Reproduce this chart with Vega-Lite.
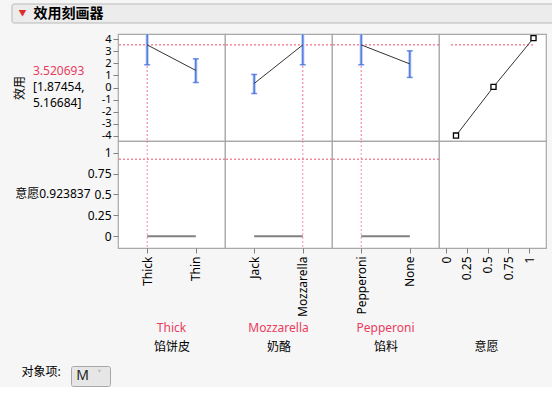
{
  "$schema": "https://vega.github.io/schema/vega-lite/v6.json",
  "background": "#f6f6f6",
  "padding": {"left": 11, "top": 3, "right": 0, "bottom": 0},
  "config": {
    "font": "Noto Sans, Noto Sans CJK SC",
    "view": {"stroke": "#a8a8a8", "strokeWidth": 1.2, "fill": "white"},
    "axis": {"domain": false, "grid": false, "labelFontSize": 12, "labelColor": "#000", "tickColor": "#808080", "tickSize": 5, "labelPadding": 2, "titleFontSize": 12, "titleFontWeight": "normal", "titleColor": "#000", "titlePadding": 0, "labelFlush": false, "labelOverlap": false, "labelBound": false},
    "title": {"fontSize": 12, "fontWeight": "normal", "subtitleFontSize": 12, "color": "#000"}
  },
  "datasets": {
    "crust": [{"level": "Thick", "u": 3.520693, "lo": 1.87454, "hi": 5.16684}, {"level": "Thin", "u": 1.41, "lo": 0.41, "hi": 2.37}],
    "cheese": [{"level": "Jack", "u": 0.33, "lo": -0.5, "hi": 1.08}, {"level": "Mozzarella", "u": 3.520693, "lo": 1.87454, "hi": 5.16684}],
    "topping": [{"level": "Pepperoni", "u": 3.520693, "lo": 1.87454, "hi": 5.16684}, {"level": "None", "u": 1.95, "lo": 0.83, "hi": 3.03}],
    "crustNow": [{"level": "Thick", "u": 3.520693, "d": 0.923837}],
    "cheeseNow": [{"level": "Mozzarella", "u": 3.520693, "d": 0.923837}],
    "toppingNow": [{"level": "Pepperoni", "u": 3.520693, "d": 0.923837}],
    "crustDes": [{"level": "Thick", "d": 0}, {"level": "Thin", "d": 0}],
    "cheeseDes": [{"level": "Jack", "d": 0}, {"level": "Mozzarella", "d": 0}],
    "toppingDes": [{"level": "Pepperoni", "d": 0}, {"level": "None", "d": 0}],
    "desFn": [{"d": 0.12, "u": -3.97}, {"d": 0.57, "u": 0.05}, {"d": 1.05, "u": 4.08}],
    "desNow": [{"u": 3.520693, "d0": 0.06, "d1": 1.05}],
    "subject": [{"item": "M"}]
  },
  "spacing": 8,
  "vconcat": [
    {
      "width": 548, "height": 19,
      "view": {"fill": null, "stroke": null},
      "data": {"values": [{}]},
      "mark": {"type": "rect", "fill": "#ececec", "stroke": "#b8b8b8", "strokeWidth": 1, "cornerRadius": 2},
      "encoding": {},
      "title": {"text": "▼", "subtitle": "效用刻画器", "orient": "left", "angle": 0, "align": "left", "anchor": "middle", "baseline": "middle", "frame": "group", "offset": -92, "color": "#dd2b2b", "fontSize": 8, "subtitleFontSize": 14, "subtitleFontWeight": "bold", "subtitleColor": "#000", "subtitlePadding": 7}
    },
    {
      "columns": 5,
      "spacing": 0,
      "bounds": "flush",
      "concat": [
        {"width": 106, "height": 107, "view": {"fill": "#f6f6f6", "stroke": null}, "data": {"values": []}, "mark": "point", "encoding": {}},
        {
          "width": 107, "height": 107,
          "data": {"name": "crust"},
          "title": {"text": "3.520693", "subtitle": ["[1.87454,", "5.16684]"], "orient": "top", "anchor": "start", "frame": "group", "align": "left", "color": "#ea3c5e", "subtitleColor": "#000", "fontSize": 12, "subtitleFontSize": 12, "subtitleLineHeight": 16, "subtitlePadding": 4, "dx": -85, "dy": 77, "offset": 0},
          "layer": [
            {"data": {"name": "crustNow"}, "mark": {"type": "rule", "color": "#ee4f6c", "strokeDash": [2, 2], "strokeWidth": 1},
             "encoding": {"y": {"field": "u", "type": "quantitative", "scale": {"domain": [-4.42, 4.42], "nice": false},
               "axis": {"values": [-4, -3, -2, -1, 0, 1, 2, 3, 4], "labelExpr": "''+datum.value", "labelFontSize": 11, "title": "效用", "titleX": -92, "titleY": 53.5, "titleAngle": 270, "titleAlign": "center", "titleBaseline": "bottom"}}}},
            {"data": {"name": "crustNow"}, "mark": {"type": "rule", "color": "#ee4f6c", "strokeDash": [2, 2], "strokeWidth": 1, "opacity": 0.8},
             "encoding": {"x": {"field": "level", "type": "nominal", "scale": {"type": "point", "padding": 0.6, "domain": ["Thick", "Thin"]}, "axis": null}}},
            {"mark": {"type": "rule", "clip": true, "color": "#a9c0f2", "strokeWidth": 3},
             "encoding": {"x": {"field": "level", "type": "nominal"}, "y": {"field": "lo", "type": "quantitative", "axis": {"values": [-4, -3, -2, -1, 0, 1, 2, 3, 4], "labelExpr": "''+datum.value", "labelFontSize": 11, "title": "效用", "titleX": -92, "titleY": 53.5, "titleAngle": 270, "titleAlign": "center", "titleBaseline": "bottom"}}, "y2": {"field": "hi"}}},
            {"mark": {"type": "rule", "clip": true, "color": "#3563d9", "strokeWidth": 1},
             "encoding": {"x": {"field": "level", "type": "nominal"}, "y": {"field": "lo", "type": "quantitative", "axis": {"values": [-4, -3, -2, -1, 0, 1, 2, 3, 4], "labelExpr": "''+datum.value", "labelFontSize": 11, "title": "效用", "titleX": -92, "titleY": 53.5, "titleAngle": 270, "titleAlign": "center", "titleBaseline": "bottom"}}, "y2": {"field": "hi"}}},
            {"mark": {"type": "tick", "clip": true, "color": "#3563d9", "size": 6, "thickness": 1.5},
             "encoding": {"x": {"field": "level", "type": "nominal"}, "y": {"field": "lo", "type": "quantitative", "axis": {"values": [-4, -3, -2, -1, 0, 1, 2, 3, 4], "labelExpr": "''+datum.value", "labelFontSize": 11, "title": "效用", "titleX": -92, "titleY": 53.5, "titleAngle": 270, "titleAlign": "center", "titleBaseline": "bottom"}}}},
            {"mark": {"type": "tick", "clip": true, "color": "#3563d9", "size": 6, "thickness": 1.5},
             "encoding": {"x": {"field": "level", "type": "nominal"}, "y": {"field": "hi", "type": "quantitative", "axis": {"values": [-4, -3, -2, -1, 0, 1, 2, 3, 4], "labelExpr": "''+datum.value", "labelFontSize": 11, "title": "效用", "titleX": -92, "titleY": 53.5, "titleAngle": 270, "titleAlign": "center", "titleBaseline": "bottom"}}}},
            {"mark": {"type": "line", "color": "#333", "strokeWidth": 1},
             "encoding": {"x": {"field": "level", "type": "nominal"}, "y": {"field": "u", "type": "quantitative", "axis": {"values": [-4, -3, -2, -1, 0, 1, 2, 3, 4], "labelExpr": "''+datum.value", "labelFontSize": 11, "title": "效用", "titleX": -92, "titleY": 53.5, "titleAngle": 270, "titleAlign": "center", "titleBaseline": "bottom"}}}}
          ]
        },
        {
          "width": 107, "height": 107,
          "data": {"name": "cheese"},
          "layer": [
            {"data": {"name": "cheeseNow"}, "mark": {"type": "rule", "color": "#ee4f6c", "strokeDash": [2, 2], "strokeWidth": 1},
             "encoding": {"y": {"field": "u", "type": "quantitative", "scale": {"domain": [-4.42, 4.42], "nice": false}, "axis": null}}},
            {"data": {"name": "cheeseNow"}, "mark": {"type": "rule", "color": "#ee4f6c", "strokeDash": [2, 2], "strokeWidth": 1, "opacity": 0.8},
             "encoding": {"x": {"field": "level", "type": "nominal", "scale": {"type": "point", "padding": 0.6, "domain": ["Jack", "Mozzarella"]}, "axis": null}}},
            {"mark": {"type": "rule", "clip": true, "color": "#a9c0f2", "strokeWidth": 3},
             "encoding": {"x": {"field": "level", "type": "nominal"}, "y": {"field": "lo", "type": "quantitative"}, "y2": {"field": "hi"}}},
            {"mark": {"type": "rule", "clip": true, "color": "#3563d9", "strokeWidth": 1},
             "encoding": {"x": {"field": "level", "type": "nominal"}, "y": {"field": "lo", "type": "quantitative"}, "y2": {"field": "hi"}}},
            {"mark": {"type": "tick", "clip": true, "color": "#3563d9", "size": 6, "thickness": 1.5},
             "encoding": {"x": {"field": "level", "type": "nominal"}, "y": {"field": "lo", "type": "quantitative"}}},
            {"mark": {"type": "tick", "clip": true, "color": "#3563d9", "size": 6, "thickness": 1.5},
             "encoding": {"x": {"field": "level", "type": "nominal"}, "y": {"field": "hi", "type": "quantitative"}}},
            {"mark": {"type": "line", "color": "#333", "strokeWidth": 1},
             "encoding": {"x": {"field": "level", "type": "nominal"}, "y": {"field": "u", "type": "quantitative"}}}
          ]
        },
        {
          "width": 107, "height": 107,
          "data": {"name": "topping"},
          "layer": [
            {"data": {"name": "toppingNow"}, "mark": {"type": "rule", "color": "#ee4f6c", "strokeDash": [2, 2], "strokeWidth": 1},
             "encoding": {"y": {"field": "u", "type": "quantitative", "scale": {"domain": [-4.42, 4.42], "nice": false}, "axis": null}}},
            {"data": {"name": "toppingNow"}, "mark": {"type": "rule", "color": "#ee4f6c", "strokeDash": [2, 2], "strokeWidth": 1, "opacity": 0.8},
             "encoding": {"x": {"field": "level", "type": "nominal", "scale": {"type": "point", "padding": 0.6, "domain": ["Pepperoni", "None"]}, "axis": null}}},
            {"mark": {"type": "rule", "clip": true, "color": "#a9c0f2", "strokeWidth": 3},
             "encoding": {"x": {"field": "level", "type": "nominal"}, "y": {"field": "lo", "type": "quantitative"}, "y2": {"field": "hi"}}},
            {"mark": {"type": "rule", "clip": true, "color": "#3563d9", "strokeWidth": 1},
             "encoding": {"x": {"field": "level", "type": "nominal"}, "y": {"field": "lo", "type": "quantitative"}, "y2": {"field": "hi"}}},
            {"mark": {"type": "tick", "clip": true, "color": "#3563d9", "size": 6, "thickness": 1.5},
             "encoding": {"x": {"field": "level", "type": "nominal"}, "y": {"field": "lo", "type": "quantitative"}}},
            {"mark": {"type": "tick", "clip": true, "color": "#3563d9", "size": 6, "thickness": 1.5},
             "encoding": {"x": {"field": "level", "type": "nominal"}, "y": {"field": "hi", "type": "quantitative"}}},
            {"mark": {"type": "line", "color": "#333", "strokeWidth": 1},
             "encoding": {"x": {"field": "level", "type": "nominal"}, "y": {"field": "u", "type": "quantitative"}}}
          ]
        },
        {
          "width": 107, "height": 107,
          "data": {"name": "desFn"},
          "layer": [
            {"data": {"name": "desNow"}, "mark": {"type": "rule", "color": "#ee4f6c", "strokeDash": [2, 2], "strokeWidth": 1},
             "encoding": {"x": {"field": "d0", "type": "quantitative", "scale": {"domain": [-0.084, 1.2], "nice": false}, "axis": null}, "x2": {"field": "d1"},
               "y": {"field": "u", "type": "quantitative", "scale": {"domain": [-4.42, 4.42], "nice": false}, "axis": null}}},
            {"mark": {"type": "line", "color": "#333", "strokeWidth": 1},
             "encoding": {"x": {"field": "d", "type": "quantitative"}, "y": {"field": "u", "type": "quantitative"}}},
            {"mark": {"type": "point", "shape": "square", "size": 26, "filled": true, "fill": "white", "stroke": "#000", "strokeWidth": 1.3, "opacity": 1},
             "encoding": {"x": {"field": "d", "type": "quantitative"}, "y": {"field": "u", "type": "quantitative"}}}
          ]
        },
        {"width": 106, "height": 107, "view": {"fill": "#f6f6f6", "stroke": null}, "data": {"values": []}, "mark": "point", "encoding": {}},
        {
          "width": 107, "height": 107,
          "title": {"text": "Thick", "orient": "bottom", "anchor": "middle", "frame": "group", "color": "#ea3c5e", "offset": -29},
          "layer": [
            {"data": {"name": "crustNow"}, "mark": {"type": "rule", "color": "#ee4f6c", "strokeDash": [2, 2], "strokeWidth": 1},
             "encoding": {"y": {"field": "d", "type": "quantitative", "scale": {"domain": [-0.142, 1.142], "nice": false},
               "axis": {"values": [0, 0.25, 0.5, 0.75, 1], "labelExpr": "''+datum.value", "title": "意愿0.923837", "titleAngle": 0, "titleAlign": "right", "titleBaseline": "middle", "titleX": -28, "titleY": 52.5}}}},
            {"data": {"name": "crustNow"}, "mark": {"type": "rule", "color": "#ee4f6c", "strokeDash": [2, 2], "strokeWidth": 1, "opacity": 0.6},
             "encoding": {"x": {"field": "level", "type": "nominal", "scale": {"type": "point", "padding": 0.6, "domain": ["Thick", "Thin"]},
               "axis": {"labelAngle": 270, "labelPadding": 3, "title": "馅饼皮", "titleY": 98, "titleBaseline": "middle"}}}},
            {"data": {"name": "crustDes"}, "mark": {"type": "line", "color": "#808080", "strokeWidth": 2},
             "encoding": {"x": {"field": "level", "type": "nominal", "axis": {"labelAngle": 270, "labelPadding": 3, "title": "馅饼皮", "titleY": 98, "titleBaseline": "middle"}},
               "y": {"field": "d", "type": "quantitative", "axis": {"values": [0, 0.25, 0.5, 0.75, 1], "labelExpr": "''+datum.value", "title": "意愿0.923837", "titleAngle": 0, "titleAlign": "right", "titleBaseline": "middle", "titleX": -28, "titleY": 52.5}}}}
          ]
        },
        {
          "width": 107, "height": 107,
          "title": {"text": "Mozzarella", "orient": "bottom", "anchor": "middle", "frame": "group", "color": "#ea3c5e", "offset": -29},
          "layer": [
            {"data": {"name": "cheeseNow"}, "mark": {"type": "rule", "color": "#ee4f6c", "strokeDash": [2, 2], "strokeWidth": 1},
             "encoding": {"y": {"field": "d", "type": "quantitative", "scale": {"domain": [-0.142, 1.142], "nice": false}, "axis": null}}},
            {"data": {"name": "cheeseNow"}, "mark": {"type": "rule", "color": "#ee4f6c", "strokeDash": [2, 2], "strokeWidth": 1, "opacity": 0.6},
             "encoding": {"x": {"field": "level", "type": "nominal", "scale": {"type": "point", "padding": 0.6, "domain": ["Jack", "Mozzarella"]},
               "axis": {"labelAngle": 270, "labelPadding": 3, "title": "奶酪", "titleY": 98, "titleBaseline": "middle"}}}},
            {"data": {"name": "cheeseDes"}, "mark": {"type": "line", "color": "#808080", "strokeWidth": 2},
             "encoding": {"x": {"field": "level", "type": "nominal", "axis": {"labelAngle": 270, "labelPadding": 3, "title": "奶酪", "titleY": 98, "titleBaseline": "middle"}}, "y": {"field": "d", "type": "quantitative"}}}
          ]
        },
        {
          "width": 107, "height": 107,
          "title": {"text": "Pepperoni", "orient": "bottom", "anchor": "middle", "frame": "group", "color": "#ea3c5e", "offset": -29},
          "layer": [
            {"data": {"name": "toppingNow"}, "mark": {"type": "rule", "color": "#ee4f6c", "strokeDash": [2, 2], "strokeWidth": 1},
             "encoding": {"y": {"field": "d", "type": "quantitative", "scale": {"domain": [-0.142, 1.142], "nice": false}, "axis": null}}},
            {"data": {"name": "toppingNow"}, "mark": {"type": "rule", "color": "#ee4f6c", "strokeDash": [2, 2], "strokeWidth": 1, "opacity": 0.6},
             "encoding": {"x": {"field": "level", "type": "nominal", "scale": {"type": "point", "padding": 0.6, "domain": ["Pepperoni", "None"]},
               "axis": {"labelAngle": 270, "labelPadding": 3, "title": "馅料", "titleY": 98, "titleBaseline": "middle"}}}},
            {"data": {"name": "toppingDes"}, "mark": {"type": "line", "color": "#808080", "strokeWidth": 2},
             "encoding": {"x": {"field": "level", "type": "nominal", "axis": {"labelAngle": 270, "labelPadding": 3, "title": "馅料", "titleY": 98, "titleBaseline": "middle"}}, "y": {"field": "d", "type": "quantitative"}}}
          ]
        },
        {
          "width": 107, "height": 107,
          "title": {"text": " ", "orient": "bottom", "anchor": "middle", "frame": "group", "fontSize": 4, "offset": 0},
          "data": {"values": []},
          "mark": {"type": "point", "opacity": 0},
          "encoding": {"x": {"field": "d", "type": "quantitative", "scale": {"domain": [-0.084, 1.2], "nice": false},
            "axis": {"values": [0, 0.25, 0.5, 0.75, 1], "labelExpr": "''+datum.value", "labelAngle": 270, "labelPadding": 3, "title": "意愿", "titleX": 47, "titleY": 98, "titleBaseline": "middle"}}}
        }
      ]
    },
    {
      "spacing": 0,
      "hconcat": [
        {"width": 58, "height": 20, "view": {"fill": "#f6f6f6", "stroke": null}, "data": {"values": [{}]},
         "mark": {"type": "text", "text": "对象项:", "fontSize": 12, "dy": -4, "color": "#000"}, "encoding": {}},
        {
          "width": 39, "height": 20,
          "view": {"fill": "#e6e6e6", "stroke": "#a8a8a8", "strokeWidth": 1, "cornerRadius": 2},
          "data": {"name": "subject"},
          "layer": [
            {"mark": {"type": "text", "fontSize": 14, "dx": -8, "color": "#222"}, "encoding": {"text": {"field": "item"}}},
            {"mark": {"type": "text", "fontSize": 10, "dx": 9, "dy": -1, "color": "#777", "text": "˅"}, "encoding": {}}
          ]
        }
      ]
    }
  ]
}
